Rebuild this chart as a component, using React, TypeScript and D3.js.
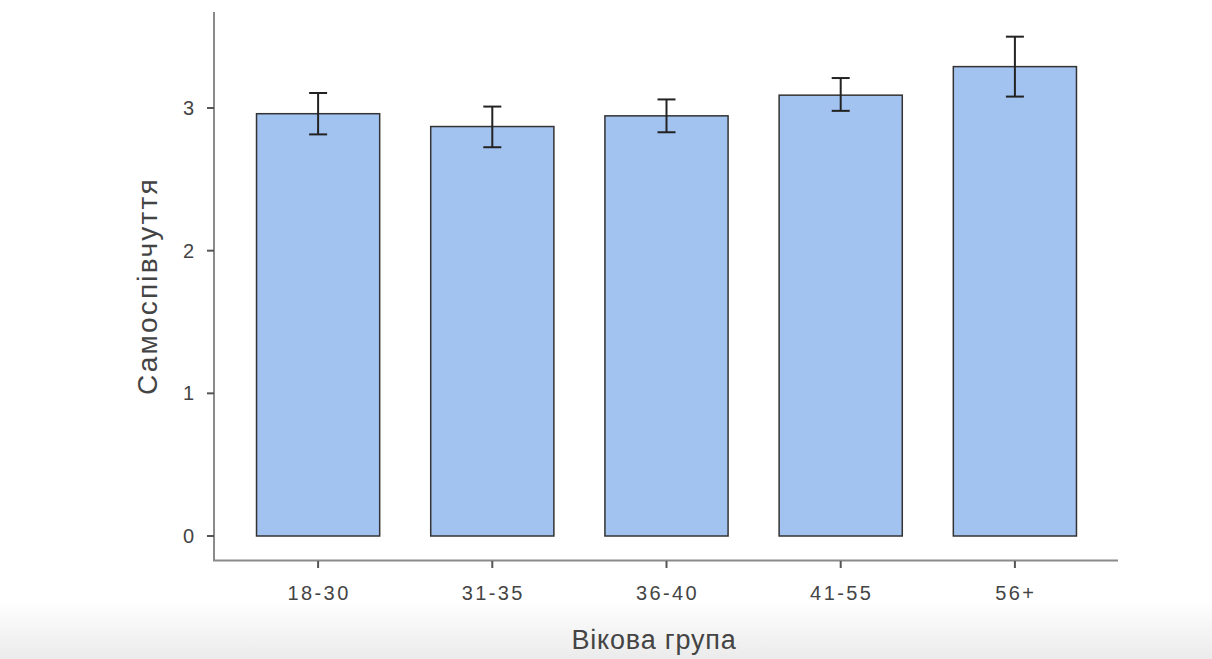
import React from "react";
import * as d3 from "d3";

const categories = ["18-30", "31-35", "36-40", "41-55", "56+"];
const means = [2.96, 2.87, 2.945, 3.09, 3.29];
const upper = [3.105, 3.01, 3.06, 3.21, 3.50];
const lower = [2.815, 2.725, 2.83, 2.98, 3.08];
const yTicks = [0, 1, 2, 3];
const xTitle = "Вікова група";
const yTitle = "Самоспівчуття";

const W = 1212;
const H = 659;
const plotLeft = 231;
const plotRight = 1102;

export default function App() {
  const x = d3.scaleBand<string>().domain(categories).range([plotLeft, plotRight]).paddingInner(0.293).paddingOuter(0.1465);
  const y = d3.scaleLinear().domain([0, 3]).range([536, 108]);
  const bw = x.bandwidth();
  const font = "'Liberation Sans', Arial, sans-serif";
  return (
    <svg width={W} height={H} style={{ position: "absolute", left: 0, top: 0, background: "#fff" }}>
      <defs>
        <linearGradient id="bg" x1="0" y1="0" x2="0" y2="1">
          <stop offset="0" stopColor="#ffffff" />
          <stop offset="1" stopColor="#ebebeb" />
        </linearGradient>
      </defs>
      <rect x={0} y={600} width={W} height={H - 600} fill="url(#bg)" />
      {/* axes */}
      <line x1={214} x2={214} y1={12} y2={561} stroke="#8a8a8a" strokeWidth={2} />
      <line x1={213} x2={1118} y1={560.5} y2={560.5} stroke="#8a8a8a" strokeWidth={2} />
      {yTicks.map((t) => (
        <g key={t}>
          <line x1={207} x2={214} y1={y(t)} y2={y(t)} stroke="#555" strokeWidth={2} />
          <text x={194} y={y(t)} dy="0.35em" textAnchor="end" fontFamily={font} fontSize={20} fill="#444">
            {t}
          </text>
        </g>
      ))}
      {categories.map((c) => {
        const cx = (x(c) as number) + bw / 2;
        return (
          <g key={c}>
            <line x1={cx} x2={cx} y1={561} y2={568} stroke="#555" strokeWidth={2} />
            <text x={cx + 1} y={593} dy="0.35em" textAnchor="middle" fontFamily={font} fontSize={20} fill="#444" letterSpacing={2.4}>
              {c}
            </text>
          </g>
        );
      })}
      {/* bars */}
      {categories.map((c, i) => (
        <rect key={c} x={x(c)} y={y(means[i])} width={bw} height={y(0) - y(means[i])} fill="#a2c2f0" stroke="#333" strokeWidth={1.5} />
      ))}
      {/* error bars */}
      {categories.map((c, i) => {
        const cx = (x(c) as number) + bw / 2;
        return (
          <g key={c} stroke="#222" strokeWidth={2}>
            <line x1={cx} x2={cx} y1={y(upper[i])} y2={y(lower[i])} />
            <line x1={cx - 9} x2={cx + 9} y1={y(upper[i])} y2={y(upper[i])} />
            <line x1={cx - 9} x2={cx + 9} y1={y(lower[i])} y2={y(lower[i])} />
          </g>
        );
      })}
      <text x={654} y={640} dy="0.35em" textAnchor="middle" fontFamily={font} fontSize={27} fill="#444" letterSpacing={0.8}>
        {xTitle}
      </text>
      <text transform={`translate(147,286) rotate(-90)`} dy="0.35em" textAnchor="middle" fontFamily={font} fontSize={28} fill="#444" letterSpacing={2.2}>
        {yTitle}
      </text>
    </svg>
  );
}
